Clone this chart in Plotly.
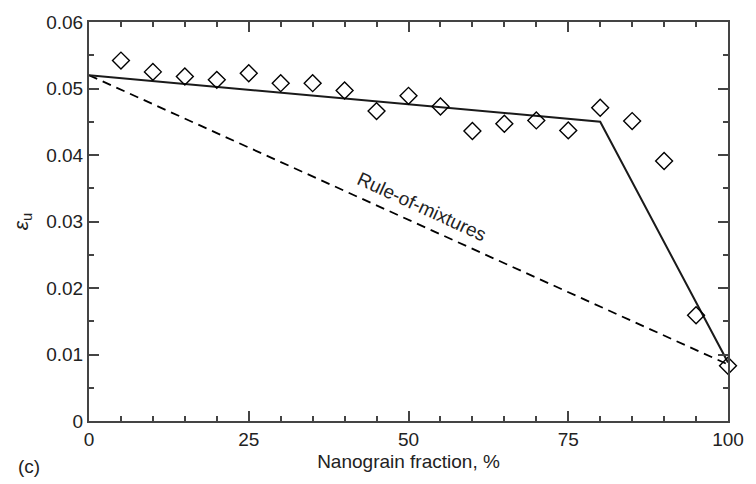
import plotly.graph_objects as go

fraction = [5, 10, 15, 20, 25, 30, 35, 40, 45, 50, 55, 60, 65, 70, 75, 80, 85, 90, 95, 100]
strain = [0.0542, 0.0525, 0.0518, 0.0513, 0.0523, 0.0508, 0.0508, 0.0497, 0.0466, 0.0489,
          0.0473, 0.0436, 0.0447, 0.0452, 0.0437, 0.0471, 0.0451, 0.0391, 0.0159, 0.0083]
fit_x = [0, 80, 100]
fit_y = [0.0520, 0.0450, 0.0088]
rom_x = [0, 100]
rom_y = [0.0520, 0.0085]
x_ticks = [0, 25, 50, 75, 100]
y_ticks = [0, 0.01, 0.02, 0.03, 0.04, 0.05, 0.06]
y_tick_labels = ["0", "0.01", "0.02", "0.03", "0.04", "0.05", "0.06"]

FONT = "Liberation Sans, Arial, sans-serif"
AX = "#444444"
TXT = "#222222"

fig = go.Figure()
fig.add_trace(go.Scatter(x=rom_x, y=rom_y, mode="lines",
                         line=dict(color="black", width=1.8, dash="9px,6px"), showlegend=False))
fig.add_trace(go.Scatter(x=fit_x, y=fit_y, mode="lines",
                         line=dict(color="#1a1a1a", width=2), showlegend=False))
fig.add_trace(go.Scatter(x=fraction, y=strain, mode="markers", cliponaxis=False,
                         marker=dict(symbol="diamond-open", size=13, color="black",
                                     line=dict(width=1.4, color="black")),
                         showlegend=False))

fig.add_annotation(x=52, y=0.0322, text="Rule-of-mixtures", showarrow=False,
                   textangle=24.6, font=dict(family=FONT, size=19, color=TXT))
fig.add_annotation(x=-0.115, y=-0.115, xref="paper", yref="paper", text="(c)",
                   showarrow=False, font=dict(family=FONT, size=19, color=TXT),
                   xanchor="left", yanchor="middle")

fig.update_xaxes(range=[0, 100], tickvals=x_ticks, ticks="inside", ticklen=10,
                 tickwidth=1.5, tickcolor=AX, showline=True, linecolor=AX, linewidth=2,
                 mirror="allticks", showgrid=False, zeroline=False,
                 minor=dict(dtick=5, ticks="inside", ticklen=5, tickwidth=1.5, tickcolor=AX,
                            showgrid=False),
                 title=dict(text="Nanograin fraction, %", font=dict(family=FONT, size=19, color=TXT),
                            standoff=6),
                 tickfont=dict(family=FONT, size=19, color=TXT))
fig.update_yaxes(range=[0, 0.06], tickvals=y_ticks, ticktext=y_tick_labels, ticks="inside",
                 ticklen=10, tickwidth=1.5, tickcolor=AX, showline=True, linecolor=AX,
                 linewidth=2, mirror="allticks", showgrid=False, zeroline=False,
                 minor=dict(dtick=0.005, ticks="inside", ticklen=5, tickwidth=1.5, tickcolor=AX,
                            showgrid=False),
                 title=dict(text="<i>ε</i><sub>u</sub>", font=dict(family=FONT, size=21, color=TXT),
                            standoff=12),
                 tickfont=dict(family=FONT, size=19, color=TXT))

fig.update_layout(width=756, height=484, margin=dict(l=89, r=20, t=15, b=63),
                  plot_bgcolor="white", paper_bgcolor="white", showlegend=False)

fig.write_html("out.html")
